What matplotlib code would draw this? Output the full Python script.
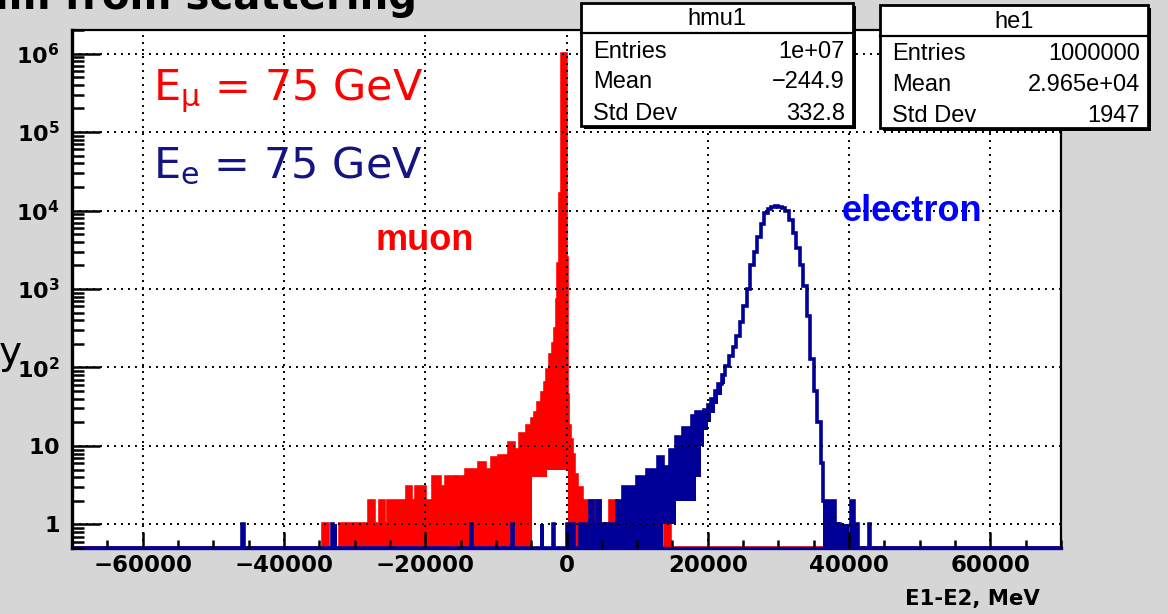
import numpy as np
import matplotlib
matplotlib.use("Agg")
import matplotlib.pyplot as plt
from matplotlib.patches import Rectangle
from matplotlib.ticker import MultipleLocator, LogLocator, FuncFormatter, NullFormatter, FixedLocator

W, H = 1168, 614
DPI = 100

# ---------------------------------------------------------------- data
# Muon energy difference E1-E2 (MeV): bin edges, upper level and lower level
# of the outline inside each bin (lower level 0 = bins reaching down to zero).
mu_edges = [-70000, -34500, -33800, -32100, -27900, -27300, -26450, -25900, -25300,
            -22600, -22000, -21300, -20000, -18900, -17900, -17000, -15750,
            -15500, -14700, -14200, -12450, -11500, -10600, -9600, -8100,
            -7500, -6600, -5600, -4900, -4450, -4000, -3500, -3050, -2700,
            -2350, -1950, -1650, -1400, -1150, -900, -650, -100, 100, 250,
            500, 780, 1060, 1550, 2200, 4700, 6100, 7100, 11300, 13900,
            14600, 70000]
mu_hi = [0, 1, 0, 1, 2, 1, 2, 1,
         2, 3, 2, 3, 2, 4, 3, 4,
         3, 4, 3, 5, 6, 5, 7, 7.5,
         11, 9, 14, 18, 22, 26, 35, 47, 63,
         92, 143, 200, 310, 720, 2100, 16400, 1.0e6, 2500, 44,
         18, 12, 7.6, 4.2, 2.9, 2, 1, 2, 1, 0,
         1, 0]
mu_lo = [0, 0, 0, 0, 0, 0, 0, 0,
         0, 0, 0, 0, 0, 0, 0, 0,
         0, 0, 0, 0, 0, 0, 0, 0,
         0, 0, 0, 0, 4, 4, 4, 4, 4,
         5, 5, 5, 5, 5, 5, 5, 5, 5, 5,
         0, 0, 0, 0, 0, 0, 0, 0, 0, 0,
         0, 0]

# Electron energy difference E1-E2 (MeV); nan = single-valued bin
nan = float("nan")
e_edges = [-70000, -46000, -45700, -33150, -33050, -32800, -32700, -13500,
           -13400, -7700, -7600, -3500, -3400, -1850, -1750, 0, 1000, 1900,
           3300, 3700, 4300, 4800, 5800, 6200, 7100, 8000, 10000, 11400,
           12900, 13600, 14600, 15500, 16500, 17700, 18400, 19000, 19500,
           20000, 20500, 21000, 21500, 22000, 22500, 23000, 23500, 24000,
           24500, 25000, 25500, 26000, 26500, 27000, 27500, 28000, 28500,
           29000, 29500, 30000, 30500, 31000, 31500, 32000, 32500, 33000,
           33500, 34000, 34500, 35000, 35500, 36000, 36300, 37950, 38400,
           38600, 38700, 39100, 39200, 39650, 39750, 40300, 40650, 41250,
           42850, 42950, 70000]
e_hi = [0, 1, 0, 1, 0, 1, 0,
        1, 0, 1, 0, 1, 0, 1, 0, 1, 0,
        1, 2, 1, 2, 1, 0, 1, 2, 3, 4,
        5, 7.3, 5.4, 8.8, 13, 16.7, 24, 27, 26,
        29, 33, 40, 50, 62, 80, 105, 140, 180,
        250, 380, 600, 1000, 2000, 3000, 4600, 6800, 9300,
        10500, 11000, 11300, 11200, 10700, 9800, 7500, 5200, 3300,
        2000, 1100, 450, 130, 50, 20, 6, 2, 1,
        0, 1, 0, 1, 0, 1, 0, 2, 1,
        0, 1, 0]
e_lo = [0, 0, 0, 0, 0, 0, 0,
        0, 0, 0, 0, 0, 0, 0, 0, 0, 0,
        0, 0, 0, 0, 0, 0, 0, 0, 0, 0,
        0, 0, 1, 1, 2, 2, 2, 4, 10,
        16, 20, 26, 34, 45, 62, nan, nan, nan,
        nan, nan, nan, nan, nan, nan, nan, nan, nan,
        nan, nan, nan, nan, nan, nan, nan, nan, nan,
        nan, nan, nan, nan, nan, nan, nan, 0, 0,
        0, 0, 0, 0, 0, 0, 0, 0, 0,
        0, 0, 0]

y_ticks = [1, 10, 1e2, 1e3, 1e4, 1e5, 1e6]
y_tick_labels = [r"$\mathbf{1}$", r"$\mathbf{10}$", r"$\mathbf{10^{2}}$",
                 r"$\mathbf{10^{3}}$", r"$\mathbf{10^{4}}$",
                 r"$\mathbf{10^{5}}$", r"$\mathbf{10^{6}}$"]

stat_names = ["Entries", "Mean", "Std Dev"]
mu_stats = ["1e+07", "\u2212244.9", "332.8"]
e_stats = ["1000000", "2.965e+04", "1947"]

RED = "#ff0000"
NAVY = "#000099"
BLUE = "#0000ff"
Y_MIN, Y_MAX = 0.5, 2.0e6

plt.rcParams["mathtext.fontset"] = "dejavusans"


def fx(px):
    return px / W


def fy(py):
    return 1 - py / H


def draw_hist(ax, edges, hi, lo, color, z):
    edges = np.asarray(edges, float)
    hi = np.asarray(hi, float)
    lo = np.asarray(lo, float)
    lo = np.where(np.isnan(lo), hi, lo)
    top = np.where(hi > 0, hi, Y_MIN)
    bot = np.where(lo > 0, lo, Y_MIN)
    ax.stairs(top, edges, baseline=bot, fill=True, facecolor=color,
              edgecolor="none", linewidth=0, zorder=z)
    ax.stairs(top, edges, baseline=None, color=color, linewidth=2.6,
              zorder=z + 0.05, clip_on=False)


fig = plt.figure(figsize=(W / DPI, H / DPI), dpi=DPI)
fig.patch.set_facecolor("#d6d6d6")

ax = fig.add_axes([fx(72), fy(548), fx(1061) - fx(72), fy(30) - fy(548)])
ax.set_facecolor("white")
ax.set_yscale("log")
ax.set_xlim(-70000, 70000)
ax.set_ylim(Y_MIN, Y_MAX)

draw_hist(ax, mu_edges, mu_hi, mu_lo, RED, 1.2)
draw_hist(ax, e_edges, e_hi, e_lo, NAVY, 1.6)

# axes, ticks and grid
ax.xaxis.set_major_locator(MultipleLocator(20000))
ax.xaxis.set_minor_locator(MultipleLocator(5000))
ax.xaxis.set_major_formatter(FuncFormatter(
    lambda v, p: f"{int(round(v))}".replace("-", "\u2212")))
ax.yaxis.set_major_locator(FixedLocator(y_ticks))
ax.yaxis.set_major_formatter(FuncFormatter(
    lambda v, p: y_tick_labels[y_ticks.index(v)] if v in y_ticks else ""))
ax.yaxis.set_minor_locator(LogLocator(base=10, subs=np.arange(2, 10), numticks=30))
ax.yaxis.set_minor_formatter(NullFormatter())

ax.tick_params(axis="x", which="major", direction="in", length=11.5, width=1.8,
               labelsize=16.5, pad=4, colors="black")
ax.tick_params(axis="x", which="minor", direction="in", length=5.5, width=1.8)
ax.tick_params(axis="y", which="major", direction="in", length=20, width=1.8,
               labelsize=16, pad=9)
ax.tick_params(axis="y", which="minor", direction="in", length=8.6, width=1.8)
for lab in ax.get_xticklabels():
    lab.set_fontweight("bold")

ax.set_axisbelow(False)
ax.grid(True, which="major", color="black", linestyle=(0, (1, 2.6)),
        linewidth=1.4)

for side in ["top", "right"]:
    ax.spines[side].set_linewidth(1.6)
ax.spines["left"].set_linewidth(2.4)
ax.spines["bottom"].set_color(NAVY)
ax.spines["bottom"].set_linewidth(2.4)

# annotations inside the frame
fig.text(fx(153), fy(100), r"E$_{\mathregular{\mu}}$ = 75 GeV", color=RED,
         fontsize=31, ha="left", va="baseline", family="DejaVu Sans")
fig.text(fx(153), fy(178), r"E$_{\mathregular{e}}$ = 75 GeV", color="#141482",
         fontsize=31, ha="left", va="baseline", family="DejaVu Sans")
fig.text(fx(375), fy(250), "muon", color=RED, fontsize=26, fontweight="bold",
         family="Liberation Sans", ha="left", va="baseline")
fig.text(fx(842), fy(221), "electron", color=BLUE, fontsize=26,
         fontweight="bold", family="Liberation Sans", ha="left", va="baseline")
fig.text(fx(1040), fy(605), "E1-E2, MeV", fontsize=15.3, fontweight="bold",
         family="DejaVu Sans", ha="right", va="baseline")

# slide text around the chart
fig.text(fx(417), fy(9), "um from scattering", fontsize=29, fontweight="bold",
         family="DejaVu Sans", ha="right", va="baseline")
fig.text(fx(-1), fy(364), "y", fontsize=28, family="DejaVu Sans",
         ha="left", va="baseline")


# statistics boxes
def stats_box(x0, y0, x1, y1, ysep, title, values):
    fig.add_artist(Rectangle((fx(x0 + 3), fy(y1 + 3)), fx(x1) - fx(x0),
                             fy(y0) - fy(y1), transform=fig.transFigure,
                             facecolor="black", edgecolor="none", zorder=10))
    fig.add_artist(Rectangle((fx(x0), fy(y1)), fx(x1) - fx(x0),
                             fy(y0) - fy(y1), transform=fig.transFigure,
                             facecolor="white", edgecolor="black",
                             linewidth=2, zorder=11))
    fig.add_artist(plt.Line2D([fx(x0), fx(x1)], [fy(ysep), fy(ysep)],
                              transform=fig.transFigure, color="black",
                              linewidth=1.6, zorder=12))
    fig.text(fx((x0 + x1) / 2), fy((y0 + ysep) / 2 + 1), title, fontsize=17,
             family="Liberation Sans", ha="center", va="center", zorder=13)
    row_h = (y1 - ysep) / 3
    for i, (name, val) in enumerate(zip(stat_names, values)):
        yc = ysep + row_h * (i + 0.5) + 3
        fig.text(fx(x0 + 12), fy(yc), name, fontsize=17,
                 family="Liberation Sans", ha="left", va="center", zorder=13)
        fig.text(fx(x1 - 8), fy(yc), val, fontsize=17,
                 family="Liberation Sans", ha="right", va="center", zorder=13)


stats_box(581, 3, 853, 126, 33, "hmu1", mu_stats)
stats_box(880, 5, 1148, 128, 36, "he1", e_stats)

fig.savefig("out.png", dpi=DPI, facecolor=fig.get_facecolor())
